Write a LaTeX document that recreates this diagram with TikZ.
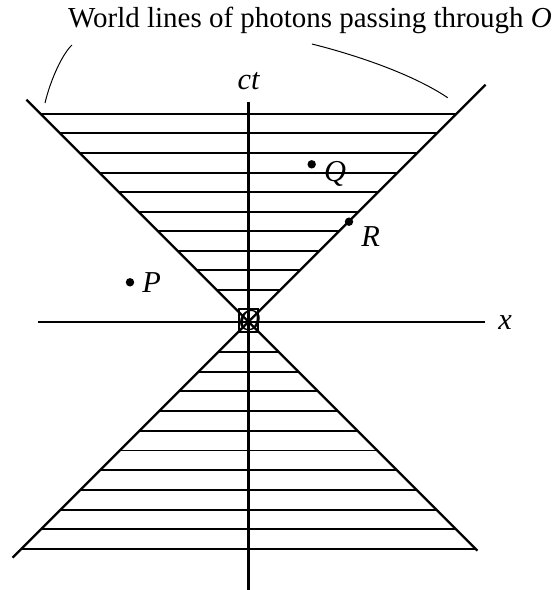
\documentclass[tikz,border=0pt]{standalone}
\usepackage{fontspec}
\setmainfont{Liberation Serif}
\usetikzlibrary{positioning}
\tikzset{
  axis/.style={line width=0.85pt},
  worldline/.style={line width=0.8pt},
  hatchline/.style={line width=0.7pt},
  leader/.style={line width=0.35pt},
  event/.style={circle, fill, inner sep=0pt, minimum size=3pt},
  evlabel/.style={font=\fontsize{10.8}{13}\selectfont\itshape, inner sep=1pt},
}

\begin{document}
\begin{tikzpicture}[x=0.0125cm, y=0.0125cm, font=\fontsize{10.3}{12.5}\selectfont]
\useasboundingbox (-248.5,-268.3) rectangle (307.5,321.7);

% ---------------- axes ----------------
\coordinate (ttop) at (0,220);
\coordinate (tbot) at (0,-268);
\coordinate (xleft) at (-210.5,0);
\coordinate (xright) at (236.5,0);
\draw[axis] (tbot) -- (ttop);
\draw[axis] (xleft) -- (xright);
\node[evlabel] (ctlab) at (0,241) {ct};
\node[evlabel] (xlab) at (256.5,-1) {x};

% ---------------- light cone ----------------
\coordinate (ul) at (-222,222);
\coordinate (lr) at (229,-229);
\coordinate (ur) at (237,237);
\coordinate (ll) at (-236,-236);
\draw[worldline] (ul) -- (lr);
\draw[worldline] (ur) -- (ll);

% hatching, future and past
\foreach \k in {1,...,10}{
  \pgfmathsetmacro\h{12.3+19.55*\k}
  \draw[hatchline] (-\h,\h) -- (\h,\h);
}
\foreach \k in {1,...,11}{
  \pgfmathsetmacro\h{10.6+19.7*\k}
  \draw[hatchline] (-\h,-\h) -- (\h,-\h);
}
\draw[hatchline] (-9.5,-10.6) rectangle (9.5,12.3);

\node[evlabel, inner sep=0pt] (olab) at (1,1) {O};

% ---------------- events ----------------
\node[event] (P) at (-118.5,39.4) {};
\node[evlabel, right=1.5pt of P] (plab) {P};
\node[event] (Q) at (63.2,157.4) {};
\node[evlabel, right=1.5pt of Q, yshift=-3.4pt] (qlab) {Q};
\node[event] (R) at (100.5,100) {};
\node[evlabel, right=1.5pt of R, yshift=-5.2pt] (rlab) {R};

% ---------------- caption with leaders ----------------
\node (title) at (61.5,301.7) {World lines of photons passing through \textit{O}};
\coordinate (ltop) at (-176.5,276.7);
\coordinate (lfoot) at (-203.5,218.7);
\coordinate (rtop) at (63.5,277.7);
\coordinate (rfoot) at (199.2,224);
\draw[leader] (ltop) .. controls (-186,268) and (-198,242) .. (lfoot);
\draw[leader] (rtop) .. controls (110,266) and (165,247) .. (rfoot);
\end{tikzpicture}
\end{document}
